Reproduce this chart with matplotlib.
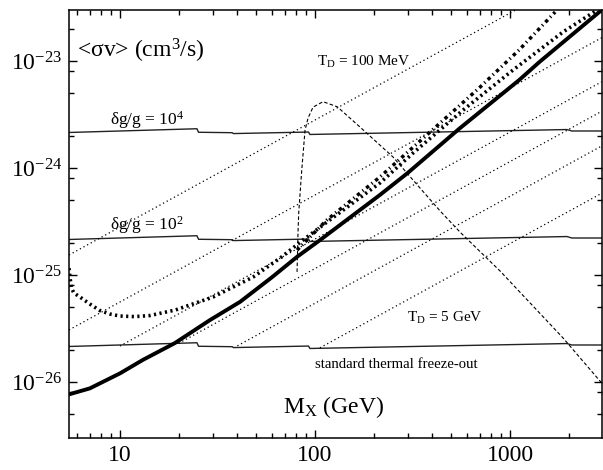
import matplotlib
matplotlib.use("Agg")
import matplotlib.pyplot as plt
import numpy as np
from matplotlib.ticker import LogLocator, NullFormatter, FixedLocator, FixedFormatter

plt.rcParams['font.family'] = ['Liberation Serif', 'DejaVu Serif']
plt.rcParams['mathtext.fontset'] = 'custom'
plt.rcParams['mathtext.rm'] = 'Liberation Serif'
plt.rcParams['mathtext.it'] = 'Liberation Serif:italic'
plt.rcParams['mathtext.bf'] = 'Liberation Serif:bold'

# ---- data ----
# standard thermal freeze-out curve (with g* steps)
fo_M = [5.48, 24.8, 25.3, 37.6, 38.2, 92.6, 94.2, 1956, 2074, 2950]
fo_sv = [2.15e-26, 2.33e-26, 2.16e-26, 2.14e-26, 2.10e-26, 2.17e-26, 2.06e-26, 2.29e-26, 2.22e-26, 2.22e-26]
fo_scale = [1, 10, 100]

# constant T_D lines: sigma v at M = 1000 GeV and starting mass
td_sv1000 = [2.81e-23, 5.6e-24, 2.17e-24, 1.15e-24, 5.45e-25, 1.97e-25]
td_Mstart = [5.48, 5.48, 10, 20, 40, 106]
M_max = 2950

# thick solid line
sol_M = [5.48, 7.01, 10.0, 13.1, 19.1, 28.9, 41.3, 60.0, 80.9, 106, 215, 297, 552, 1113, 1418, 2950]
sol_sv = [7.67e-27, 8.73e-27, 1.205e-26, 1.61e-26, 2.31e-26, 3.79e-26, 5.62e-26, 9.5e-26, 1.48e-25,
          2.12e-25, 5.60e-25, 8.92e-25, 2.35e-24, 6.64e-24, 9.84e-24, 3.00e-23]

# thick dotted line
dot_M = [5.48, 5.54, 5.64, 5.81, 6.24, 7.02, 7.89, 8.89, 10, 11.9, 14.2, 19.2, 30.0, 48.1, 66.2,
         86.7, 119, 215, 318, 574, 1035, 1870, 2795]
dot_sv = [1.16e-25, 9.57e-26, 7.56e-26, 6.79e-26, 6.23e-26, 5.35e-26, 4.66e-26, 4.32e-26, 4.14e-26,
          4.09e-26, 4.18e-26, 4.71e-26, 6.23e-26, 9.57e-26, 1.44e-25, 2.12e-25, 3.27e-25, 7.24e-25,
          1.38e-24, 3.48e-24, 8.24e-24, 1.87e-23, 3.0e-23]

# thick dash-dot line
dd_M = [80.9, 115, 215, 389, 702, 1113, 1702]
dd_sv = [1.71e-25, 3.27e-25, 8.24e-25, 2.17e-24, 5.71e-24, 1.27e-23, 2.87e-23]

# thin dashed curve
das_M = [80.9, 81.8, 82.5, 85.5, 88.9, 92.1, 97.7, 110, 130, 170, 251, 318, 438, 554, 889, 1870, 2950]
das_sv = [1.07e-25, 2.47e-25, 3.80e-25, 9.57e-25, 2.26e-24, 2.93e-24, 3.71e-24, 4.17e-24, 3.74e-24,
          2.42e-24, 1.27e-24, 7.73e-25, 3.97e-25, 2.52e-25, 1.09e-25, 2.58e-26, 9.79e-27]

# ---- figure ----
fig = plt.figure(figsize=(6.03, 4.70), dpi=100)
ax = fig.add_axes([69 / 603, 32 / 470, 532.7 / 603, 428 / 470])
ax.set_xscale('log')
ax.set_yscale('log')
ax.set_xlim(5.48, 2950)
ax.set_ylim(3e-27, 3e-23)

for s in fo_scale:
    ax.plot(fo_M, np.array(fo_sv) * s, color='#222222', lw=1.0, solid_joinstyle='miter')

for k, m0 in zip(td_sv1000, td_Mstart):
    mm = np.array([m0, M_max])
    ax.plot(mm, k * mm / 1000.0, color='black', lw=0.9, linestyle=(0, (1.0, 2.3)))

ax.plot(das_M, das_sv, color='black', lw=0.8, linestyle=(0, (3.2, 2.0)))
ax.plot(sol_M, sol_sv, color='black', lw=2.8, solid_capstyle='butt', solid_joinstyle='round')
ax.plot(dot_M, dot_sv, color='black', lw=2.6, linestyle=(0, (0.6, 0.95)))
ax.plot(dd_M, dd_sv, color='black', lw=2.5, linestyle=(0, (1.0, 1.0, 0.35, 1.0)))

# ---- axes styling ----
ax.xaxis.set_major_locator(FixedLocator([10, 100, 1000]))
ax.xaxis.set_major_formatter(FixedFormatter(['10', '100', '1000']))
ax.xaxis.set_minor_locator(LogLocator(base=10, subs=np.arange(2, 10)))
ax.xaxis.set_minor_formatter(NullFormatter())
ax.yaxis.set_major_locator(FixedLocator([1e-26, 1e-25, 1e-24, 1e-23]))
ax.yaxis.set_major_formatter(FixedFormatter([r'$10^{-26}$', r'$10^{-25}$', r'$10^{-24}$', r'$10^{-23}$']))
ax.yaxis.set_minor_locator(LogLocator(base=10, subs=[2, 5, 8]))
ax.yaxis.set_minor_formatter(NullFormatter())
ax.tick_params(which='both', direction='in', top=True, right=True, width=1.0)
ax.tick_params(which='major', length=5.5, labelsize=17, pad=5)
ax.tick_params(which='minor', length=3.6)
for sp in ax.spines.values():
    sp.set_linewidth(1.1)

# ---- texts ----
ax.text(0.015, 0.890, r'<σv> (cm$^{3}$/s)', transform=ax.transAxes, fontsize=17, va='baseline')
ax.text(0.402, 0.058, r'M$_\mathrm{X}$ (GeV)', transform=ax.transAxes, fontsize=17, va='baseline')
ax.text(0.077, 0.731, r'δg/g = 10$^{4}$', transform=ax.transAxes, fontsize=12.5, va='baseline')
ax.text(0.077, 0.486, r'δg/g = 10$^{2}$', transform=ax.transAxes, fontsize=12.5, va='baseline')
ax.text(0.4656, 0.869, r'T$_\mathrm{D}$ = 100 MeV', transform=ax.transAxes, fontsize=11, va='baseline')
ax.text(0.6345, 0.271, r'T$_\mathrm{D}$ = 5 GeV', transform=ax.transAxes, fontsize=11, va='baseline')
ax.text(0.4618, 0.1636, 'standard thermal freeze-out', transform=ax.transAxes, fontsize=10.6, va='baseline')

fig.savefig('out.png', dpi=100)
